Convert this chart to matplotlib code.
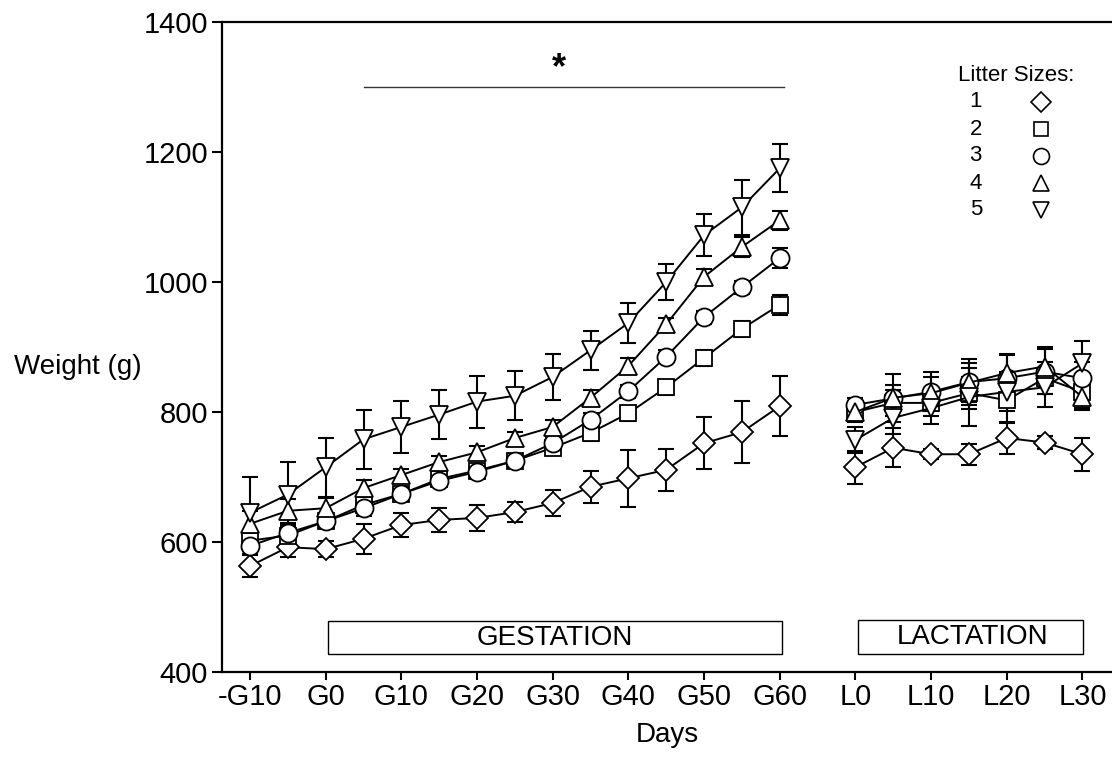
import matplotlib
matplotlib.use("Agg")
import matplotlib.pyplot as plt
from matplotlib.patches import Rectangle
import numpy as np

plt.rcParams['font.family'] = ['Liberation Sans', 'DejaVu Sans']

# ---- data ----
gest_days = [-10, -5, 0, 5, 10, 15, 20, 25, 30, 35, 40, 45, 50, 55, 60]
lact_days = [0, 5, 10, 15, 20, 25, 30]
lact_offset = 70  # lactation day 0 sits 10 units after G60

litter_sizes = ['1', '2', '3', '4', '5']
markers = ['D', 's', 'o', '^', 'v']

gest_mean_1 = [563, 592, 589, 605, 626, 634, 637, 646, 660, 685, 698, 711, 752, 769, 809]
gest_sem_1 = [17, 15, 12, 23, 18, 19, 20, 15, 20, 25, 44, 32, 40, 48, 46]
lact_mean_1 = [715, 745, 735, 735, 760, 753, 735]
lact_sem_1 = [25, 30, 8, 16, 25, 10, 25]

gest_mean_2 = [602, 610, 632, 657, 674, 697, 710, 725, 745, 768, 798, 838, 883, 928, 965]
gest_sem_2 = [12, 12, 10, 12, 10, 10, 10, 10, 10, 12, 12, 12, 12, 12, 15]
lact_mean_2 = [800, 814, 814, 829, 818, 852, 831]
lact_sem_2 = [12, 20, 20, 25, 35, 25, 25]

gest_mean_3 = [594, 614, 632, 652, 674, 694, 708, 725, 752, 788, 832, 885, 946, 992, 1037]
gest_sem_3 = [12, 12, 10, 12, 10, 10, 8, 10, 10, 10, 10, 10, 10, 10, 15]
lact_mean_3 = [811, 821, 831, 846, 852, 862, 852]
lact_sem_3 = [10, 37, 30, 35, 35, 35, 25]

gest_mean_4 = [628, 648, 652, 683, 703, 723, 738, 760, 777, 822, 871, 935, 1008, 1054, 1095]
gest_sem_4 = [20, 18, 15, 12, 10, 10, 10, 10, 10, 12, 12, 10, 12, 15, 15]
lact_mean_4 = [800, 822, 829, 845, 860, 870, 823]
lact_sem_4 = [15, 20, 25, 30, 30, 30, 20]

gest_mean_5 = [645, 673, 715, 758, 777, 796, 816, 825, 854, 895, 937, 1000, 1072, 1115, 1175]
gest_sem_5 = [55, 50, 45, 45, 40, 38, 40, 38, 36, 30, 31, 28, 32, 42, 37]
lact_mean_5 = [757, 791, 806, 823, 831, 838, 875]
lact_sem_5 = [20, 25, 25, 45, 30, 30, 35]

gest_means = [gest_mean_1, gest_mean_2, gest_mean_3, gest_mean_4, gest_mean_5]
gest_sems = [gest_sem_1, gest_sem_2, gest_sem_3, gest_sem_4, gest_sem_5]
lact_means = [lact_mean_1, lact_mean_2, lact_mean_3, lact_mean_4, lact_mean_5]
lact_sems = [lact_sem_1, lact_sem_2, lact_sem_3, lact_sem_4, lact_sem_5]

tick_pos = [-10, 0, 10, 20, 30, 40, 50, 60, 70, 80, 90, 100]
tick_labels = ['-G10', 'G0', 'G10', 'G20', 'G30', 'G40', 'G50', 'G60',
               'L0', 'L10', 'L20', 'L30']

# ---- figure ----
fig = plt.figure(figsize=(11.12, 7.70), dpi=100)
ax = fig.add_axes([222 / 1112, 1 - 672 / 770, 1 - 222 / 1112, (672 - 22) / 770])

FS = 21
msizes = {'D': 11.5, 's': 11.5, 'o': 13, '^': 13.5, 'v': 13.5}
gx = np.array(gest_days)
lx = np.array(lact_days) + lact_offset
for i in range(5):
    m = markers[i]
    for xs, ys, es in [(gx, gest_means[i], gest_sems[i]), (lx, lact_means[i], lact_sems[i])]:
        ax.errorbar(xs, ys, yerr=es, fmt='none', ecolor='black', elinewidth=1.5,
                    capsize=6, capthick=1.5, zorder=2 + i * 0.1)
        ax.plot(xs, ys, color='black', lw=1.4, marker=m, markersize=msizes[m],
                markerfacecolor='white', markeredgecolor='black', markeredgewidth=1.3,
                zorder=3 + i * 0.1)

ax.set_xlim(-13.7, 103.9)
ax.set_ylim(400, 1400)
ax.set_yticks([400, 600, 800, 1000, 1200, 1400])
ax.set_xticks(tick_pos)
ax.set_xticklabels(tick_labels)
ax.tick_params(axis='both', labelsize=FS, direction='out', width=1.5, color='black')
ax.tick_params(axis='y', length=7, pad=3)
ax.tick_params(axis='x', length=6, pad=2)
for s in ['left', 'bottom', 'top']:
    ax.spines[s].set_linewidth(1.6)
ax.spines['right'].set_visible(False)

ax.set_xlabel('Days', fontsize=FS - 1, labelpad=8)
fig.text(78 / 1112, 1 - 367 / 770, 'Weight (g)', fontsize=FS - 1, ha='center', va='center')

# phase boxes
ax.add_patch(Rectangle((0.3, 427), 60.0, 51, fill=False, edgecolor='black', lw=1.0, zorder=4))
ax.text(30.3, 452, 'GESTATION', fontsize=FS - 1, ha='center', va='center')
ax.add_patch(Rectangle((70.4, 428), 29.7, 52, fill=False, edgecolor='black', lw=1.0, zorder=4))
ax.text(85.5, 454, 'LACTATION', fontsize=FS - 1, ha='center', va='center')

# significance line
ax.plot([5, 60.5], [1300, 1300], color='#333333', lw=1.0)
ax.text(30.8, 1328, '*', fontsize=26, ha='center', va='center', fontweight='bold')

# legend
ax.text(91.2, 1318, 'Litter Sizes:', fontsize=16, ha='center', va='center')
leg_y = [1277, 1235, 1194, 1152, 1111]
leg_ms = {'D': 10, 's': 10, 'o': 11.5, '^': 11.5, 'v': 11.5}
for i in range(5):
    ax.text(85.9, leg_y[i], litter_sizes[i], fontsize=16, ha='center', va='center')
    ax.plot([94.5], [leg_y[i]], marker=markers[i], markersize=leg_ms[markers[i]],
            markerfacecolor='white', markeredgecolor='black', markeredgewidth=1.2,
            linestyle='none')

fig.savefig('out.png', dpi=100)
